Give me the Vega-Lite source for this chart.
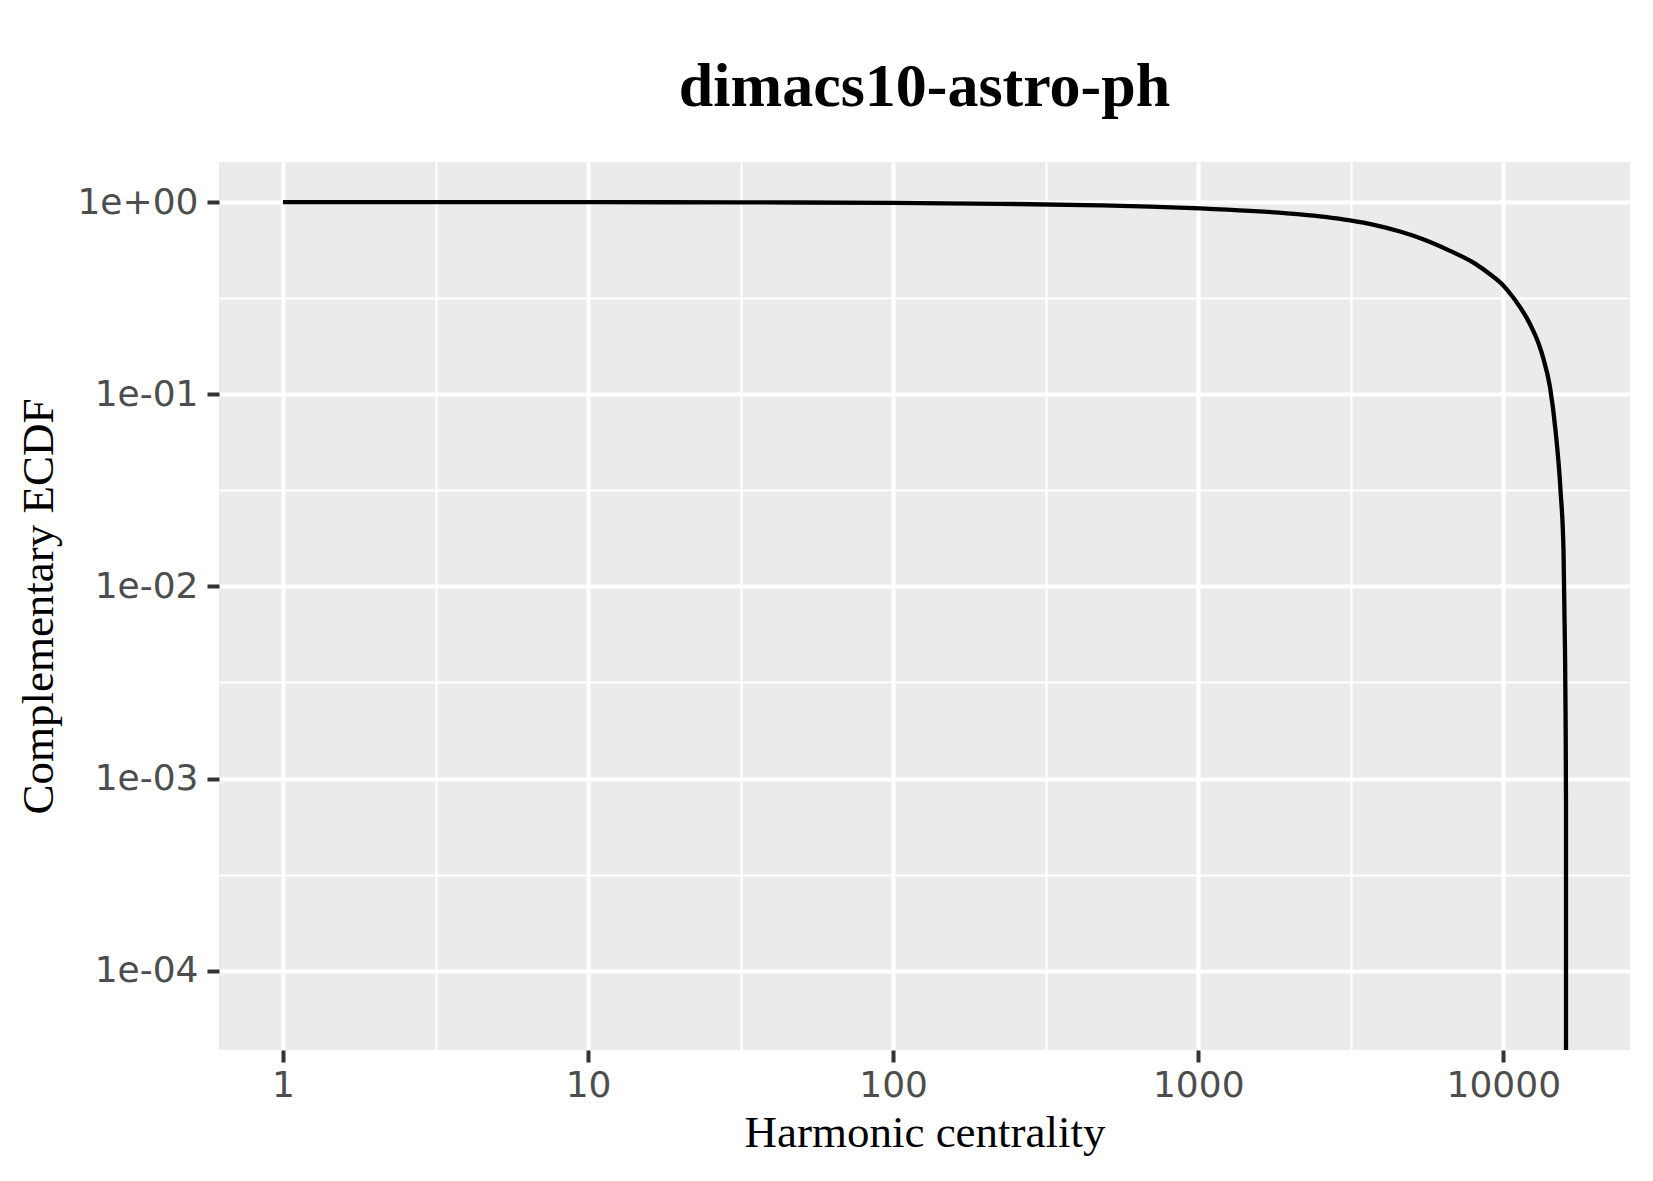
{
  "$schema": "https://vega.github.io/schema/vega-lite/v6.json",
  "width": 1411,
  "height": 888,
  "autosize": {"type": "none"},
  "padding": {"left": 219, "top": 162, "right": 23, "bottom": 131},
  "background": "white",
  "title": {
    "text": "dimacs10-astro-ph",
    "font": "Liberation Serif",
    "fontSize": 62,
    "fontWeight": "bold",
    "color": "black",
    "anchor": "middle",
    "frame": "group",
    "baseline": "alphabetic",
    "offset": -6
  },
  "config": {
    "view": {"fill": "#EBEBEB", "stroke": null}
  },
  "data": {
    "values": [
      {"x": 1, "y": 1},
      {"x": 3, "y": 0.9995},
      {"x": 10, "y": 0.9985},
      {"x": 30, "y": 0.996},
      {"x": 100, "y": 0.9893},
      {"x": 224.2, "y": 0.9787},
      {"x": 476.9, "y": 0.9612},
      {"x": 695.6, "y": 0.9475},
      {"x": 1014, "y": 0.9273},
      {"x": 1479, "y": 0.8999},
      {"x": 2157, "y": 0.863},
      {"x": 2604, "y": 0.8364},
      {"x": 3146, "y": 0.8021},
      {"x": 3798, "y": 0.7581},
      {"x": 4586, "y": 0.7023},
      {"x": 5538, "y": 0.6349},
      {"x": 6689, "y": 0.5572},
      {"x": 8078, "y": 0.4778},
      {"x": 9046, "y": 0.4209},
      {"x": 9980, "y": 0.3693},
      {"x": 10639, "y": 0.3272},
      {"x": 11343, "y": 0.284},
      {"x": 11958, "y": 0.248},
      {"x": 12516, "y": 0.2149},
      {"x": 13043, "y": 0.184},
      {"x": 13497, "y": 0.1554},
      {"x": 14229, "y": 0.1085},
      {"x": 14831, "y": 0.0648},
      {"x": 15400, "y": 0.0316},
      {"x": 15752, "y": 0.0154},
      {"x": 15930, "y": 0.00464},
      {"x": 16004, "y": 0.002},
      {"x": 16050, "y": 0.000768},
      {"x": 16050, "y": 0.0000605},
      {"x": 16050, "y": 0.0000387}
    ]
  },
  "mark": {"type": "line", "color": "black", "strokeWidth": 4.3, "interpolate": "monotone", "clip": true},
  "encoding": {
    "x": {
      "field": "x",
      "type": "quantitative",
      "scale": {"type": "log", "domain": [0.617, 26018], "nice": false, "zero": false},
      "axis": {
        "title": "Harmonic centrality",
        "titleFont": "Liberation Serif",
        "titleFontSize": 45,
        "titleFontWeight": "normal",
        "titleColor": "black",
        "titlePadding": 7,
        "values": [1, 3.16228, 10, 31.6228, 100, 316.228, 1000, 3162.28, 10000],
        "labelExpr": "abs(log(datum.value)/LN10 - round(log(datum.value)/LN10)) < 0.01 ? format(datum.value, 'd') : ''",
        "labelFont": "DejaVu Sans",
        "labelFontSize": 36,
        "labelColor": "#4D4D4D",
        "labelPadding": 6,
        "labelOverlap": false,
        "labelFlush": false,
        "labelBound": false,
        "domain": false,
        "tickSize": 12,
        "tickColor": "#333333",
        "tickWidth": {"condition": {"test": "abs(log(datum.value)/LN10 - round(log(datum.value)/LN10)) < 0.01", "value": 4}, "value": 0},
        "grid": true,
        "gridColor": "white",
        "gridOpacity": 1,
        "gridWidth": {"condition": {"test": "abs(log(datum.value)/LN10 - round(log(datum.value)/LN10)) < 0.01", "value": 4.2}, "value": 2.2}
      }
    },
    "y": {
      "field": "y",
      "type": "quantitative",
      "scale": {"type": "log", "domain": [0.0000387, 1.6154], "nice": false, "zero": false},
      "axis": {
        "title": "Complementary ECDF",
        "titleFont": "Liberation Serif",
        "titleFontSize": 45,
        "titleFontWeight": "normal",
        "titleColor": "black",
        "titlePadding": 15,
        "values": [1, 0.316228, 0.1, 0.0316228, 0.01, 0.00316228, 0.001, 0.000316228, 0.0001],
        "labelExpr": "abs(log(datum.value)/LN10 - round(log(datum.value)/LN10)) < 0.01 ? (round(log(datum.value)/LN10) == 0 ? '1e+00' : '1e-0' + abs(round(log(datum.value)/LN10))) : ''",
        "labelFont": "DejaVu Sans",
        "labelFontSize": 36,
        "labelColor": "#4D4D4D",
        "labelPadding": 9,
        "labelOverlap": false,
        "labelFlush": false,
        "labelBound": false,
        "domain": false,
        "tickSize": 12,
        "tickColor": "#333333",
        "tickWidth": {"condition": {"test": "abs(log(datum.value)/LN10 - round(log(datum.value)/LN10)) < 0.01", "value": 4}, "value": 0},
        "grid": true,
        "gridColor": "white",
        "gridOpacity": 1,
        "gridWidth": {"condition": {"test": "abs(log(datum.value)/LN10 - round(log(datum.value)/LN10)) < 0.01", "value": 4.2}, "value": 2.2}
      }
    }
  }
}
